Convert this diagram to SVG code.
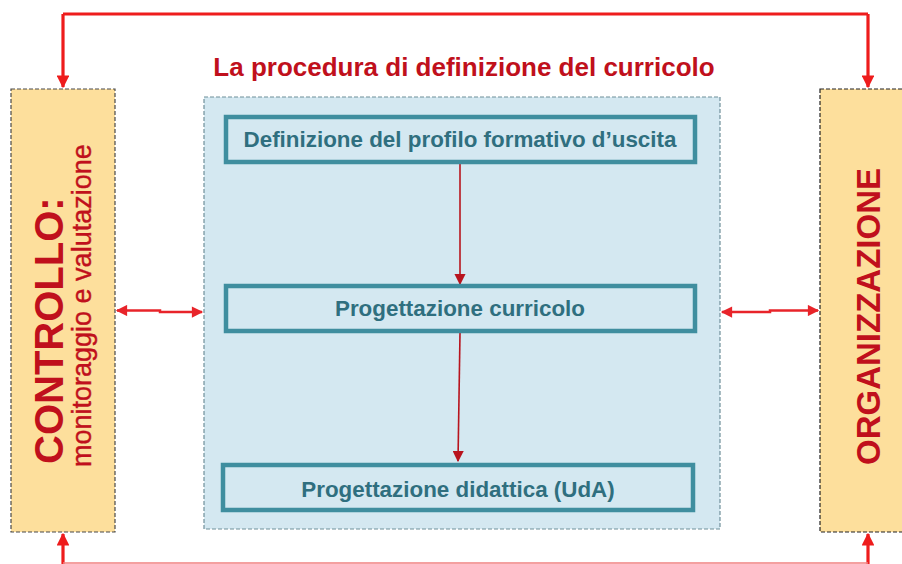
<svg xmlns="http://www.w3.org/2000/svg" width="902" height="564" viewBox="0 0 902 564">
<defs>
<style>
.side{fill:#fddf9c;stroke:#4a4a4a;stroke-width:1.2;stroke-dasharray:4 2}
.panel{fill:#d4e8f1;stroke:#6f8f9a;stroke-width:1.2;stroke-dasharray:4 2}
.step{fill:#d4e8f1;stroke:#3f8e9f;stroke-width:4.5}
.steptxt{font-family:"Liberation Sans",Arial,sans-serif;font-weight:bold;font-size:22.4px;fill:#2f6f7f;text-anchor:middle}
.title{font-family:"Liberation Sans",Arial,sans-serif;font-weight:bold;font-size:26px;fill:#c0101c;text-anchor:middle}
.big{font-family:"Liberation Sans",Arial,sans-serif;font-weight:bold;fill:#c0101c}
.sub{font-family:"Liberation Sans",Arial,sans-serif;fill:#c0101c;stroke:#c0101c;stroke-width:0.4}
.red{fill:none;stroke:#ee1c1c;stroke-width:3.2}
.redthin{fill:none;stroke:#e8242a;stroke-width:2.5}
.dark{fill:none;stroke:#b8141e;stroke-width:1.6}
</style>
<marker id="ah" viewBox="0 0 10 10" refX="9" refY="5" markerWidth="4" markerHeight="4" orient="auto-start-reverse" markerUnits="strokeWidth">
<path d="M0,0 L10,5 L0,10 z" fill="#ee1c1c"/>
</marker>
<marker id="ahs" viewBox="0 0 10 10" refX="9" refY="5" markerWidth="5.5" markerHeight="4.5" orient="auto-start-reverse" markerUnits="strokeWidth">
<path d="M0,0 L10,5 L0,10 z" fill="#e8242a"/>
</marker>
<marker id="ahd" viewBox="0 0 10 10" refX="9" refY="5" markerWidth="7" markerHeight="7" orient="auto" markerUnits="strokeWidth">
<path d="M0,0 L10,5 L0,10 z" fill="#b8141e"/>
</marker>
</defs>
<rect width="902" height="564" fill="#ffffff"/>

<g id="connectors">
<path class="red" d="M63,14 L868,14"/>
<path class="red" d="M63,14 L63,87" marker-end="url(#ah)"/>
<path class="red" d="M868,14 L868,87" marker-end="url(#ah)"/>
<path class="red" d="M63,564 L63,534" marker-end="url(#ah)"/>
<path class="red" d="M868,564 L868,534" marker-end="url(#ah)"/>
<path d="M63,563 L868,563" stroke="#f08080" stroke-width="1.5" fill="none"/>
<path class="redthin" d="M117,310.5 L160,310.5 L160,312 L202,312" marker-start="url(#ahs)" marker-end="url(#ahs)"/>
<path class="redthin" d="M722,312 L770,312 L770,310.5 L818,310.5" marker-start="url(#ahs)" marker-end="url(#ahs)"/>
</g>

<g id="title">
<text class="title" x="464" y="76">La procedura di definizione del curricolo</text>
</g>

<g id="controllo">
<rect class="side" x="11" y="89" width="104" height="443"/>
<text class="big" font-size="40" transform="translate(63,464) rotate(-90)">CONTROLLO:</text>
<text class="sub" font-size="27" transform="translate(91,467) rotate(-90)">monitoraggio e valutazione</text>
</g>

<g id="organizzazione">
<rect class="side" x="820" y="89" width="90" height="443" style="stroke:#222"/>
<text class="big" font-size="33" transform="translate(880,465) rotate(-90)">ORGANIZZAZIONE</text>
</g>

<g id="panel">
<rect class="panel" x="204" y="97" width="516" height="432"/>
</g>

<g id="connectors-inner">
<path class="dark" d="M460,164 L460,284" marker-end="url(#ahd)"/>
<path class="dark" d="M460,333 L458,461" marker-end="url(#ahd)"/>
</g>

<g id="step1">
<rect class="step" x="226" y="117" width="469" height="45"/>
<text class="steptxt" x="460" y="147">Definizione del profilo formativo d’uscita</text>
</g>

<g id="step2">
<rect class="step" x="226" y="286" width="469" height="45"/>
<text class="steptxt" x="460" y="316">Progettazione curricolo</text>
</g>

<g id="step3">
<rect class="step" x="223" y="465" width="470" height="45"/>
<text class="steptxt" x="458" y="497">Progettazione didattica (UdA)</text>
</g>
</svg>
